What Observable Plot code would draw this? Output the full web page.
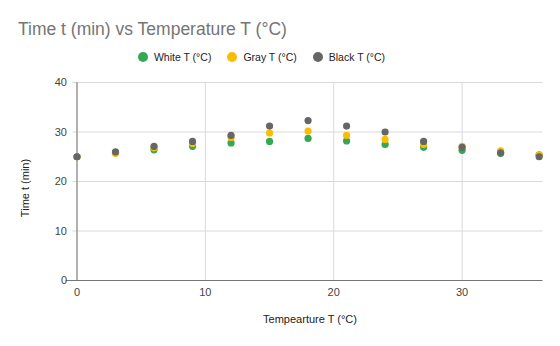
<!DOCTYPE html>
<html>
<head>
<meta charset="utf-8">
<script src="https://cdn.jsdelivr.net/npm/d3@7"></script>
<script src="https://cdn.jsdelivr.net/npm/@observablehq/plot@0.6"></script>
<style>
  html, body { margin: 0; padding: 0; background: #fff; }
  #wrap { position: relative; width: 560px; height: 346px; font-family: "Liberation Sans", Arial, sans-serif; }
  #title { position: absolute; left: 18px; top: 19px; font-size: 17.5px; color: #757575; white-space: nowrap; }
  #legend { position: absolute; left: 0; width: 560px; top: 51px; display: flex; justify-content: center; padding-right: 37px; box-sizing: border-box; font-size: 10.5px; color: #222; }
  .item { display: flex; align-items: center; margin: 0 8px; }
  .sw { width: 10px; height: 10px; border-radius: 50%; margin-right: 6px; }
  #chart { position: absolute; left: 0; top: 0; }
</style>
</head>
<body>
<div id="wrap">
  <div id="chart"></div>
  <div id="title">Time t (min) vs Temperature T (°C)</div>
  <div id="legend"></div>
</div>
<script>
// Temperature readings (x) and the three series of times
const temps = [0, 3, 6, 9, 12, 15, 18, 21, 24, 27, 30, 33, 36];
const white = [25, 25.8, 26.4, 27.1, 27.8, 28.1, 28.7, 28.2, 27.5, 26.9, 26.3, 25.7, 25.4];
const gray  = [25, 25.7, 26.8, 27.7, 28.9, 29.8, 30.2, 29.3, 28.5, 27.5, 27.1, 26.2, 25.4];
const black = [25, 26.0, 27.1, 28.1, 29.3, 31.2, 32.3, 31.2, 30.0, 28.1, 26.9, 25.8, 25.0];

const seriesNames = ["White T (°C)", "Gray T (°C)", "Black T (°C)"];
const seriesColors = ["#34a853", "#fbbc04", "#666666"];
const xTicks = [0, 10, 20, 30];
const yTicks = [0, 10, 20, 30, 40];

const rows = [];
[white, gray, black].forEach((vals, s) => {
  vals.forEach((v, i) => rows.push({series: seriesNames[s], t: temps[i], v}));
});

const chart = Plot.plot({
  width: 560,
  height: 346,
  marginLeft: 76.5,
  marginRight: 17.5,
  marginTop: 82,
  marginBottom: 66,
  style: {fontFamily: "'Liberation Sans', Arial, sans-serif", fontSize: "11px", color: "#444", background: "transparent"},
  x: {domain: [0, 36.3], ticks: xTicks},
  y: {domain: [0, 40], ticks: yTicks},
  color: {domain: seriesNames, range: seriesColors},
  marks: [
    Plot.ruleY(yTicks.filter(d => d > 0), {stroke: "#d9d9d9", insetLeft: -4}),
    Plot.ruleX(xTicks.filter(d => d > 0), {stroke: "#d9d9d9"}),
    Plot.ruleX([0], {stroke: "#9e9e9e", strokeWidth: 1.6}),
    Plot.ruleY([0], {stroke: "#757575", insetLeft: -11}),
    Plot.axisY(yTicks, {tickSize: 0, tickPadding: 10, label: null, fill: "#444"}),
    Plot.axisX(xTicks, {tickSize: 0, tickPadding: 8, label: null, fill: "#444"}),
    Plot.dot(rows, {x: "t", y: "v", fill: "series", r: 3.6, stroke: null}),
    Plot.text(["Tempearture T (°C)"], {frameAnchor: "bottom", dy: 42, fill: "#222", fontSize: 11}),
    Plot.text(["Time t (min)"], {frameAnchor: "left", textAnchor: "middle", dx: -51.5, dy: 6.5, rotate: -90, fill: "#222", fontSize: 11})
  ]
});
document.getElementById("chart").appendChild(chart);

const legend = document.getElementById("legend");
seriesNames.forEach((name, i) => {
  const item = document.createElement("div");
  item.className = "item";
  const sw = document.createElement("span");
  sw.className = "sw";
  sw.style.background = seriesColors[i];
  const label = document.createElement("span");
  label.textContent = name;
  item.appendChild(sw);
  item.appendChild(label);
  legend.appendChild(item);
});
</script>
</body>
</html>
